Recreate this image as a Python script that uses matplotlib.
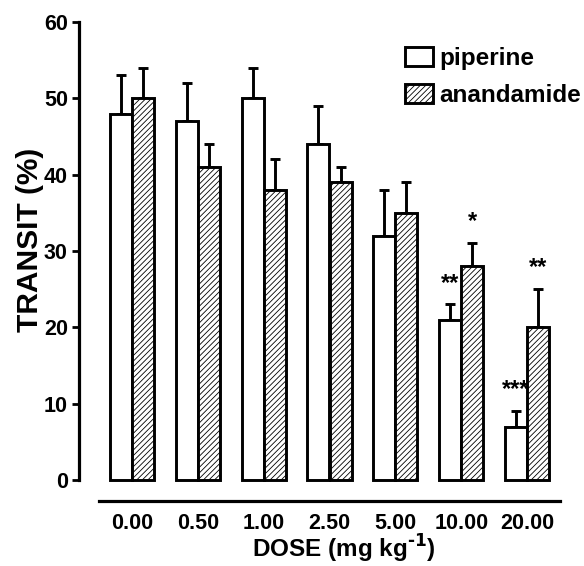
import numpy as np
import matplotlib
matplotlib.use("Agg")
import matplotlib.pyplot as plt

plt.rcParams['font.family'] = ['Liberation Sans', 'DejaVu Sans']
plt.rcParams['font.weight'] = 'bold'
plt.rcParams['hatch.linewidth'] = 0.6

doses = ["0.00", "0.50", "1.00", "2.50", "5.00", "10.00", "20.00"]
piperine = [48, 47, 50, 44, 32, 21, 7]
piperine_err = [5, 5, 4, 5, 6, 2, 2]
anandamide = [50, 41, 38, 39, 35, 28, 20]
anandamide_err = [4, 3, 4, 2, 4, 3, 5]
# significance marks: (dose index, series, label)
marks = [(5, "piperine", "**"), (5, "anandamide", "*"),
         (6, "piperine", "***"), (6, "anandamide", "**")]

fig = plt.figure(figsize=(5.84, 5.66), dpi=100)
ax = fig.add_axes([99/584, 1-480/566, 461/584, 458/566])

x = np.arange(len(doses))
w = 0.335
lw_edge = 2.1
ax.bar(x - w/2, piperine, w, color='white', edgecolor='black',
       linewidth=lw_edge, label='piperine', clip_on=False, zorder=3)
ax.bar(x + w/2, anandamide, w, color='white', edgecolor='black',
       linewidth=lw_edge, hatch='//////', label='anandamide',
       clip_on=False, zorder=3)
zeros = np.zeros(len(doses))
ax.errorbar(x - w/2, piperine, yerr=[zeros, piperine_err], fmt='none',
            ecolor='black', elinewidth=2.1, capsize=3.6, capthick=2.1, zorder=2)
ax.errorbar(x + w/2, anandamide, yerr=[zeros, anandamide_err], fmt='none',
            ecolor='black', elinewidth=2.1, capsize=3.6, capthick=2.1, zorder=2)

series = {"piperine": (piperine, piperine_err, -w/2),
          "anandamide": (anandamide, anandamide_err, w/2)}
for i, s, lab in marks:
    vals, errs, off = series[s]
    ax.text(x[i] + off, vals[i] + errs[i] + 1.95, lab, ha='center', va='baseline',
            fontsize=17, fontweight='bold')

ax.set_xlim(-0.5, 6.5)
ax.set_ylim(0, 60)
ax.set_yticks([0, 10, 20, 30, 40, 50, 60])
ax.set_xticks(x)
ax.set_xticklabels(doses)

for s in ['top', 'right']:
    ax.spines[s].set_visible(False)
ax.spines['left'].set_position(('outward', 14.4))
ax.spines['bottom'].set_position(('outward', 14.9))
ax.spines['left'].set_linewidth(2.3)
ax.spines['bottom'].set_linewidth(2.3)

ax.tick_params(axis='y', length=5, width=2.0, pad=3, labelsize=15.5)
ax.tick_params(axis='x', length=0, pad=8.6, labelsize=15.5)
for t in ax.get_xticklabels() + ax.get_yticklabels():
    t.set_fontweight('bold')

ax.set_ylabel('TRANSIT (%)', fontsize=21.5, fontweight='bold', va='center')
ax.yaxis.set_label_coords(-0.1497, 0.525)
ax.set_xlabel('DOSE (mg kg$^{\\mathbf{\\text{-}1}}$)', fontsize=17.5, fontweight='bold',
              va='center')
ax.xaxis.set_label_coords(0.531, -0.150)

ax.legend(loc='upper left', bbox_to_anchor=(405/584, 1-47/566),
          bbox_transform=fig.transFigure, frameon=False,
          prop={'size': 17.5, 'weight': 'bold'},
          handlelength=1.15, handleheight=0.82, handletextpad=0.25,
          labelspacing=0.58, borderpad=0, borderaxespad=0)

fig.savefig('out.png', dpi=100)
